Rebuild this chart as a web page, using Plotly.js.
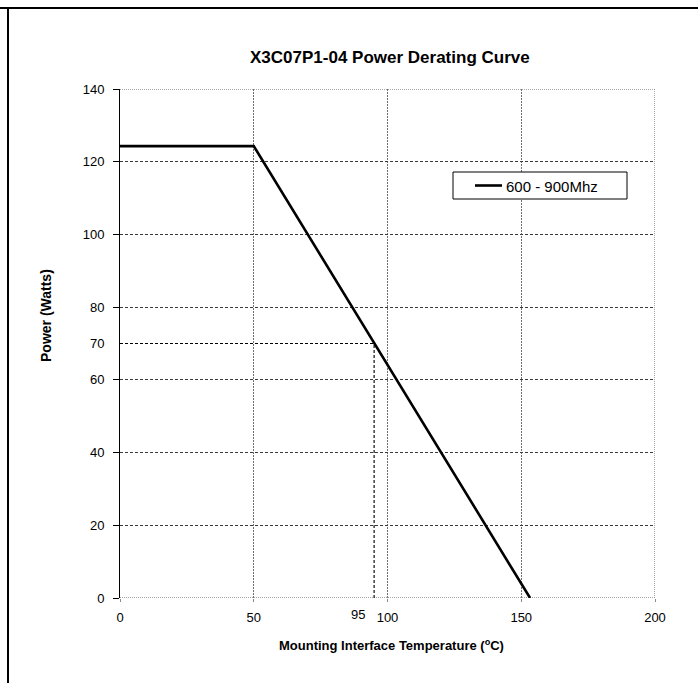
<!DOCTYPE html>
<html>
<head>
<meta charset="utf-8">
<script src="https://cdn.plot.ly/plotly-3.0.1.min.js"></script>
<style>
  html, body { margin: 0; padding: 0; background: #fff; }
  #chart { width: 698px; height: 683px; }
</style>
</head>
<body>
<div id="chart"></div>
<script>
// Data
const seriesName = "600 - 900Mhz";
const tempC = [0, 50, 153.3];
const powerW = [124.3, 124.3, 0];
const xTicks = [0, 50, 100, 150, 200];
const yTicks = [0, 20, 40, 60, 80, 100, 120, 140];
const markTemp = 95;
const markPower = 70;
const chartTitle = "X3C07P1-04 Power Derating Curve";
const xTitle = "Mounting Interface Temperature (<sup>o</sup>C)";
const yTitle = "Power (Watts)";

const W = 698, H = 683;
const M = {l: 120, r: 43, t: 89, b: 85};
const pw = W - M.l - M.r, ph = H - M.t - M.b;
const px = v => (v - M.l) / pw;          // page x -> paper x
const py = v => (H - M.b - v) / ph;      // page y -> paper y

const font = "Liberation Sans, Arial, Helvetica, sans-serif";
const hGrid = "#3a3a3a";
const vGrid = "#707070";
const edgeGrid = "#8a8a8a";
const lineW = 2.6;

const trace = {
  x: tempC, y: powerW, type: "scatter", mode: "lines", name: seriesName,
  line: {color: "#000000", width: lineW}, showlegend: false
};

const xMin = xTicks[0], xMax = xTicks[xTicks.length - 1];
const yMin = yTicks[0], yMax = yTicks[yTicks.length - 1];

const layout = {
  width: W, height: H,
  margin: M,
  paper_bgcolor: "#ffffff", plot_bgcolor: "#ffffff",
  font: {family: font, color: "#000000", size: 13},
  showlegend: false,
  xaxis: {
    range: [xMin, xMax], tickvals: xTicks, ticktext: xTicks.map(String),
    showgrid: true, gridcolor: vGrid, griddash: "2px,1px", gridwidth: 1,
    zeroline: false, showline: false,
    ticks: "outside", ticklen: 3, tickcolor: edgeGrid, ticklabelstandoff: 4,
    tickfont: {family: font, size: 13, color: "#000000"},
    fixedrange: true
  },
  yaxis: {
    range: [yMin, yMax], tickvals: yTicks, ticktext: yTicks.map(String),
    showgrid: true, gridcolor: hGrid, griddash: "3px,2px", gridwidth: 1,
    zeroline: false, showline: true, linecolor: "#000000", linewidth: 1,
    ticks: "outside", ticklen: 6, tickcolor: "#000000", ticklabelstandoff: 6,
    tickfont: {family: font, size: 13, color: "#000000"},
    fixedrange: true
  },
  shapes: [
    // plot edges: bottom, top, right (fine gray dotted)
    {type: "line", xref: "x", yref: "y", x0: xMin, x1: xMax, y0: yMin, y1: yMin,
     line: {color: edgeGrid, width: 1.5, dash: "1px,1px"}, layer: "below"},
    {type: "line", xref: "x", yref: "y", x0: xMin, x1: xMax, y0: yMax, y1: yMax,
     line: {color: edgeGrid, width: 1.5, dash: "1px,1px"}, layer: "below"},
    {type: "line", xref: "x", yref: "y", x0: xMax, x1: xMax, y0: yMin, y1: yMax,
     line: {color: edgeGrid, width: 1.5, dash: "1px,1px"}, layer: "below"},
    // reference lines to 95 °C / 70 W
    {type: "line", xref: "x", yref: "y", x0: xMin, x1: markTemp, y0: markPower, y1: markPower,
     line: {color: "#000000", width: 1, dash: "3px,2px"}, layer: "below"},
    {type: "line", xref: "x", yref: "y", x0: markTemp, x1: markTemp, y0: yMin, y1: markPower,
     line: {color: "#222222", width: 1.3, dash: "3px,2px"}, layer: "below"},
    // legend box (drawn by hand to match the reference)
    {type: "rect", xref: "paper", yref: "paper", x0: px(453), x1: px(627), y0: py(172), y1: py(199),
     line: {color: "#000000", width: 1}, fillcolor: "#ffffff", layer: "above"},
    {type: "line", xref: "paper", yref: "paper", x0: px(475), x1: px(502), y0: py(185.5), y1: py(185.5),
     line: {color: "#000000", width: lineW}, layer: "above"},
    // page frame lines (top and left)
    {type: "line", xref: "paper", yref: "paper", x0: px(0), x1: px(W), y0: py(8), y1: py(8),
     line: {color: "#000000", width: 2}},
    {type: "line", xref: "paper", yref: "paper", x0: px(8), x1: px(8), y0: py(8), y1: py(H),
     line: {color: "#000000", width: 2}}
  ],
  annotations: [
    {text: "<b>" + chartTitle + "</b>", xref: "paper", yref: "paper", x: px(390), y: py(57),
     xanchor: "center", yanchor: "middle", showarrow: false, font: {family: font, size: 17}},
    {text: "<b>" + xTitle + "</b>", xref: "paper", yref: "paper", x: px(391), y: py(645),
     xanchor: "center", yanchor: "middle", showarrow: false, font: {family: font, size: 13}},
    {text: "<b>" + yTitle + "</b>", xref: "paper", yref: "paper", x: px(46), y: py(316),
     xanchor: "center", yanchor: "middle", showarrow: false, textangle: -90, font: {family: font, size: 14}},
    {text: String(markPower), xref: "paper", yref: "y", x: px(106), y: markPower,
     xanchor: "right", yanchor: "middle", showarrow: false, font: {family: font, size: 13}},
    {text: String(markTemp), xref: "x", yref: "paper", x: markTemp, y: py(614),
     xanchor: "right", yanchor: "middle", xshift: -7, showarrow: false, font: {family: font, size: 13}},
    {text: seriesName, xref: "paper", yref: "paper", x: px(504), y: py(186),
     xanchor: "left", yanchor: "middle", showarrow: false, font: {family: font, size: 15}}
  ]
};

Plotly.newPlot("chart", [trace], layout, {displayModeBar: false, staticPlot: true});
</script>
</body>
</html>
